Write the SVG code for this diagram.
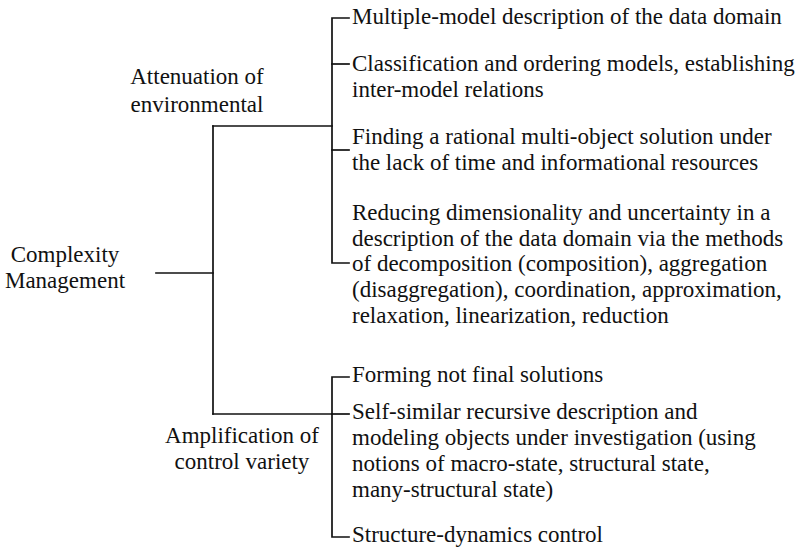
<svg xmlns="http://www.w3.org/2000/svg" width="800" height="548" viewBox="0 0 800 548">
  <style>
    text { font-family: "Liberation Serif", "Times New Roman", serif; font-size: 23px; fill: #111; }
    .mid { text-anchor: middle; }
    .wire { fill: none; stroke: #111; stroke-width: 1.7; stroke-linecap: square; }
  </style>
  <rect width="800" height="548" fill="#fff"/>

  <g id="connectors">
    <!-- root to trunk -->
    <path class="wire" d="M156,273 H213"/>
    <path class="wire" d="M213,126 V414"/>
    <path class="wire" d="M213,126 H332"/>
    <path class="wire" d="M213,414 H332"/>
    <!-- upper bracket -->
    <path class="wire" d="M349,18 H332 V263 H349"/>
    <path class="wire" d="M332,64 H349"/>
    <path class="wire" d="M332,150 H349"/>
    <!-- lower bracket -->
    <path class="wire" d="M349,377 H332 V537 H349"/>
    <path class="wire" d="M332,414 H349"/>
  </g>

  <g id="root">
    <text class="mid" x="65" y="262">Complexity</text>
    <text class="mid" x="65" y="288">Management</text>
  </g>

  <g id="attenuation">
    <text class="mid" x="197" y="84">Attenuation of</text>
    <text class="mid" x="197" y="112">environmental</text>
  </g>

  <g id="amplification">
    <text class="mid" x="242" y="443">Amplification of</text>
    <text class="mid" x="242" y="469">control variety</text>
  </g>

  <g id="multi-model">
    <text x="352" y="24">Multiple-model description of the data domain</text>
  </g>

  <g id="classification">
    <text x="352" y="71">Classification and ordering models, establishing</text>
    <text x="352" y="97">inter-model relations</text>
  </g>

  <g id="rational-solution">
    <text x="352" y="144">Finding a rational multi-object solution under</text>
    <text x="352" y="170">the lack of time and informational resources</text>
  </g>

  <g id="reducing">
    <text x="352" y="220">Reducing dimensionality and uncertainty in a</text>
    <text x="352" y="246">description of the data domain via the methods</text>
    <text x="352" y="271">of decomposition (composition), aggregation</text>
    <text x="352" y="297">(disaggregation), coordination, approximation,</text>
    <text x="352" y="323">relaxation, linearization, reduction</text>
  </g>

  <g id="not-final">
    <text x="352" y="382">Forming not final solutions</text>
  </g>

  <g id="self-similar">
    <text x="352" y="419">Self-similar recursive description and</text>
    <text x="352" y="445">modeling objects under investigation (using</text>
    <text x="352" y="471">notions of macro-state, structural state,</text>
    <text x="352" y="497">many-structural state)</text>
  </g>

  <g id="structure-dynamics">
    <text x="352" y="542">Structure-dynamics control</text>
  </g>
</svg>
